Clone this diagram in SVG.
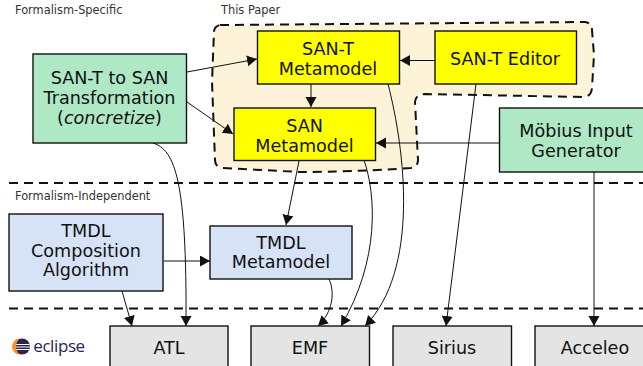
<svg xmlns="http://www.w3.org/2000/svg" width="643" height="366" viewBox="0 0 643 366">
<style>
text{font-family:"DejaVu Sans",sans-serif;fill:#111;text-anchor:middle}
.n{font-size:17.600px}
.s{font-size:11.400px;text-anchor:start;fill:#333}
.b{stroke:#111;stroke-width:1.4}
.g{fill:#aee8c4}.y{fill:#ffff00}.bl{fill:#d6e2f5}.gr{fill:#e4e4e4}
.c{fill:none;stroke:#111;stroke-width:1;marker-end:url(#a)}
.d{fill:none;stroke:#111;stroke-width:2;stroke-dasharray:9 6}
</style>
<defs><marker id="a" markerUnits="userSpaceOnUse" markerWidth="11" markerHeight="12" refX="10" refY="5.500" orient="auto"><path d="M0 0L10 5.500L0 11Z" fill="#111"/></marker></defs>
<g id="region"><path d="M220 25L585 22Q592 23 592 30L594 55L592 88Q591 97 583 97L425 94Q415 95 415 102L418 160Q418 167 411 168Q350 172 300 172L222 168Q215 167 215 160L212 82L214 31Q215 26 220 25Z" fill="#fdf3d9" stroke="none"/><path class="d" d="M220 25L585 22Q592 23 592 30L594 55L592 88Q591 97 583 97L425 94Q415 95 415 102L418 160Q418 167 411 168Q350 172 300 172L222 168Q215 167 215 160L212 82L214 31Q215 26 220 25Z"/></g>
<g id="separators"><path class="d" d="M9 183H643M9 308.500H643"/></g>
<text class="s" x="15" y="14">Formalism-Specific</text>
<text class="s" x="221" y="14">This Paper</text>
<text class="s" x="15" y="200">Formalism-Independent</text>
<g id="connectors">
<path class="c" d="M187 72L257 59"/>
<path class="c" d="M187 102L233 134"/>
<path class="c" d="M311 84V107"/>
<path class="c" d="M435 60.500H400"/>
<path class="c" d="M499 143H376"/>
<path class="c" d="M153 143C175 150 187 180 186 326"/>
<path class="c" d="M299 161L286 225"/>
<path class="c" d="M164 261H210"/>
<path class="c" d="M122 291L132 326"/>
<path class="c" d="M329 279C335 292 333 312 318 326"/>
<path class="c" d="M364 160C376 195 380 260 341 326"/>
<path class="c" d="M388 84C405 150 420 270 365 326"/>
<path class="c" d="M476 84L446 326"/>
<path class="c" d="M594 172V326"/>
</g>
<g id="san-t-to-san"><rect class="b g" x="33" y="54" width="153.500" height="89"/><text class="n" x="109.500" y="83.500">SAN-T to SAN</text><text class="n" x="109.500" y="104">Transformation</text><text class="n" x="109.500" y="124">(<tspan font-style="italic">concretize</tspan>)</text></g>
<g id="san-t-metamodel"><rect class="b y" x="257.500" y="31" width="142" height="53"/><text class="n" x="328" y="55">SAN-T</text><text class="n" x="328" y="74.500">Metamodel</text></g>
<g id="san-t-editor"><rect class="b y" x="435" y="31" width="141.500" height="53"/><text class="n" x="505" y="64.500">SAN-T Editor</text></g>
<g id="san-metamodel"><rect class="b y" x="234" y="108" width="141.500" height="52.500"/><text class="n" x="304.500" y="132">SAN</text><text class="n" x="304.500" y="152">Metamodel</text></g>
<g id="mobius"><rect class="b g" x="499.500" y="108" width="150" height="64"/><text class="n" x="576" y="137">Möbius Input</text><text class="n" x="576" y="157">Generator</text></g>
<g id="tmdl-composition"><rect class="b bl" x="9" y="214" width="154" height="77"/><text class="n" x="86" y="237">TMDL</text><text class="n" x="86" y="257">Composition</text><text class="n" x="86" y="276">Algorithm</text></g>
<g id="tmdl-metamodel"><rect class="b bl" x="210" y="226" width="142" height="53"/><text class="n" x="281" y="249">TMDL</text><text class="n" x="281" y="268">Metamodel</text></g>
<g id="atl"><rect class="b gr" x="110" y="326" width="118" height="50"/><text class="n" x="169" y="353.500">ATL</text></g>
<g id="emf"><rect class="b gr" x="251" y="326" width="118.500" height="50"/><text class="n" x="310" y="353.500">EMF</text></g>
<g id="sirius"><rect class="b gr" x="393" y="326" width="118.500" height="50"/><text class="n" x="452" y="353.500">Sirius</text></g>
<g id="acceleo"><rect class="b gr" x="535" y="326" width="118" height="50"/><text class="n" x="595" y="353.500">Acceleo</text></g>
<g id="eclipse"><clipPath id="e"><circle cx="22" cy="346.500" r="8"/></clipPath><circle cx="22" cy="346.500" r="8" fill="#2c2255"/><path d="M14 344.500H30M14 347H30M14 349.500H30" stroke="#fff" stroke-width="1" clip-path="url(#e)"/><path d="M20 338.500A8 8 0 0 0 20 354.500A10 10 0 0 1 20 338.500Z" fill="#f7941e"/><text x="59" y="352" style="font-family:'Open Sans',sans-serif;font-size:17px;fill:#2c2255;letter-spacing:-.4px">eclipse</text></g>
</svg>
